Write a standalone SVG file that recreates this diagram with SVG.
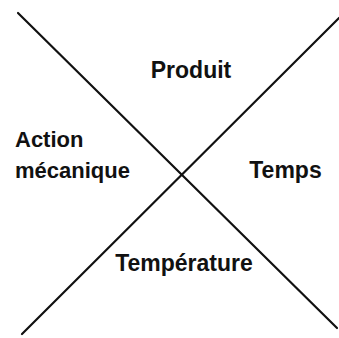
<svg xmlns="http://www.w3.org/2000/svg" width="339" height="338" viewBox="0 0 339 338">
<style>
.lbl{font-family:"Liberation Sans",Arial,sans-serif;font-size:23px;font-weight:bold;fill:#111;}
.sm{font-size:22px;}
.ln{stroke:#111;stroke-width:2.2;stroke-linecap:round;fill:none;}
</style>
<rect width="339" height="338" fill="#fff"/>
<g id="connectors">
<line class="ln" x1="18" y1="13" x2="337" y2="328"/>
<line class="ln" x1="22" y1="334" x2="339" y2="18"/>
</g>
<g id="produit"><text class="lbl" x="191" y="78" text-anchor="middle">Produit</text></g>
<g id="action"><text class="lbl sm" x="15" y="147">Action</text><text class="lbl sm" x="15" y="178">mécanique</text></g>
<g id="temps"><text class="lbl" x="285.5" y="178" text-anchor="middle">Temps</text></g>
<g id="temperature"><text class="lbl" x="184" y="271" text-anchor="middle">Température</text></g>
</svg>
